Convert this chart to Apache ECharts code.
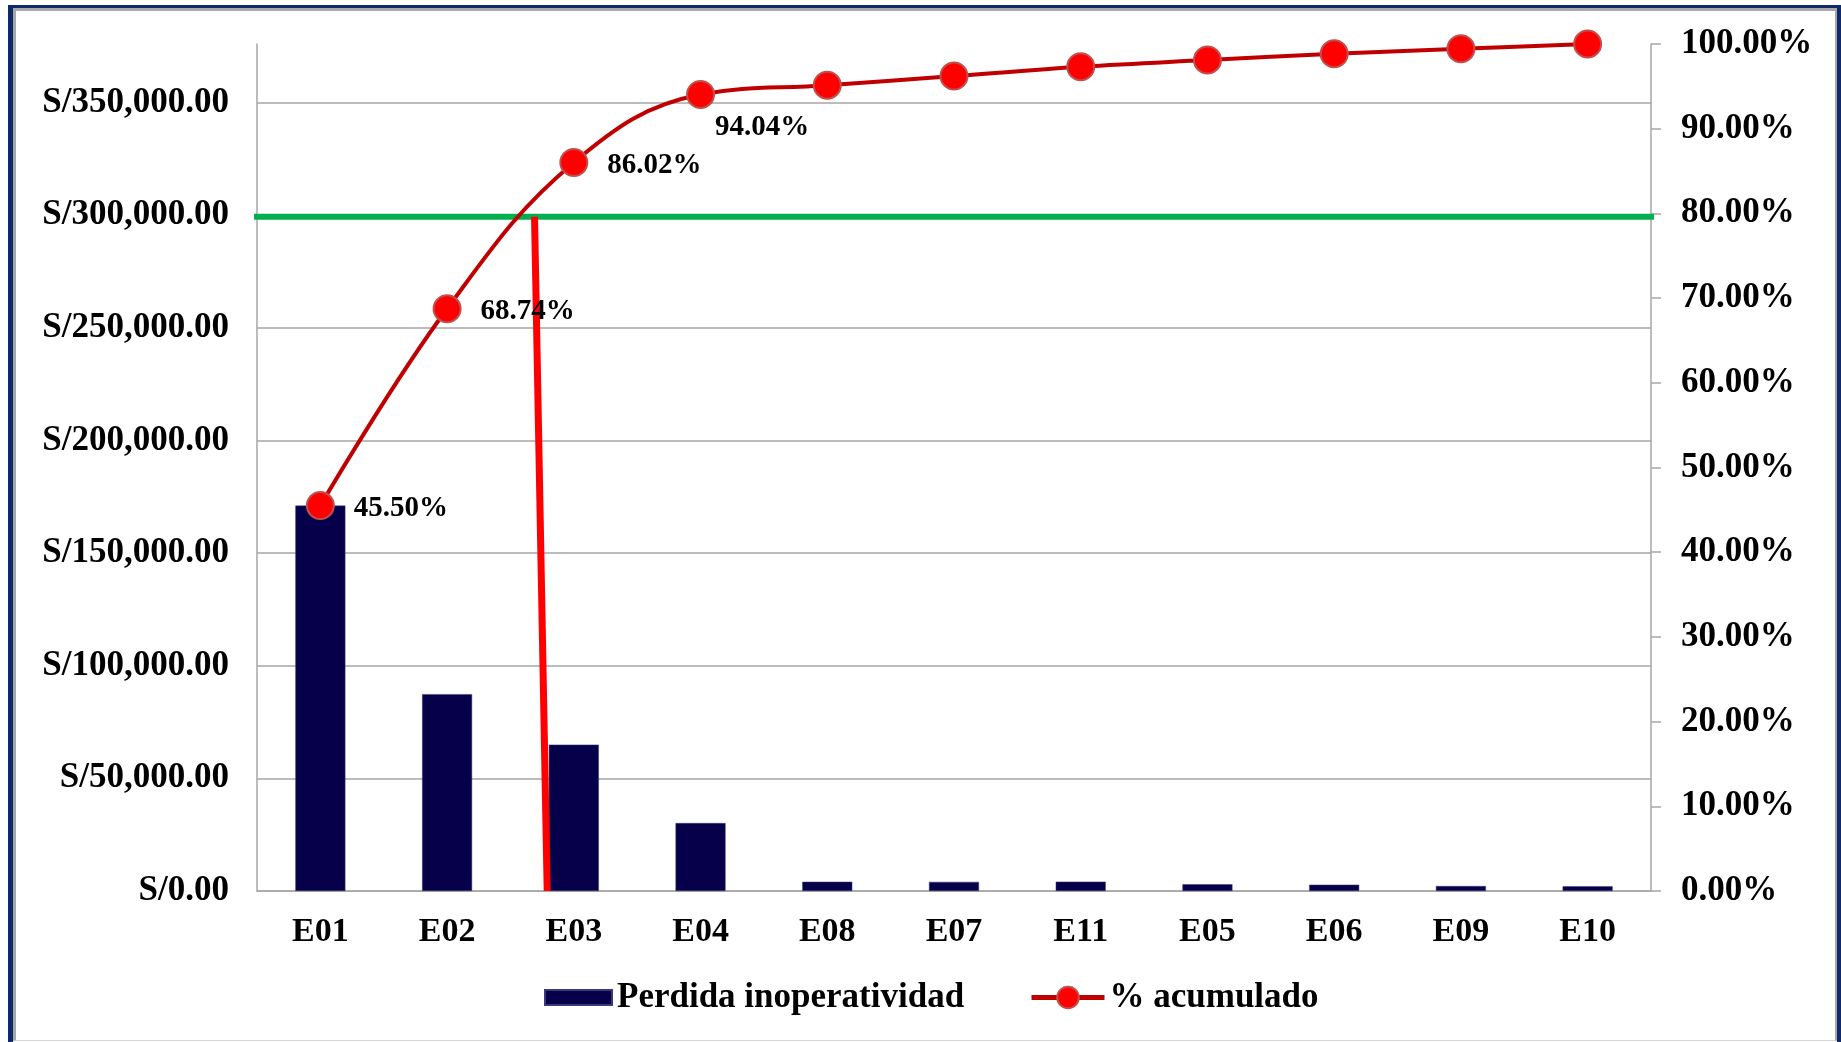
<!DOCTYPE html>
<html>
<head>
<meta charset="utf-8">
<title>Pareto - Perdida inoperatividad</title>
<script src="https://cdn.jsdelivr.net/npm/echarts@6/dist/echarts.min.js"></script>
<style>
  html, body { margin: 0; padding: 0; background: #ffffff; }
  body { width: 1841px; height: 1042px; position: relative; overflow: hidden; }
  /* navy frame around the chart area */
  #frame {
    position: absolute; left: 8px; top: 5px; right: 0; bottom: 0;
    border-left: 5px solid #0e2a68; border-top: 3px solid #0e2a68; border-right: 4px solid #0e2a68;
    box-sizing: border-box;
  }
  #frame-inner {
    position: absolute; left: 0; top: 0; right: 0; bottom: 1px;
    border-left: 3px solid #a8a8a8; border-top: 3px solid #a8a8a8; border-right: 2px solid #a8a8a8;
    border-bottom: 1px solid #d6d6d6;
    box-sizing: border-box;
  }
  #chart { position: absolute; left: 0; top: 0; width: 1841px; height: 1042px; }
</style>
</head>
<body>
<div id="frame"><div id="frame-inner"></div></div>
<div id="chart"></div>
<script>
// Equipment codes, sorted by loss
const categories = ['E01', 'E02', 'E03', 'E04', 'E08', 'E07', 'E11', 'E05', 'E06', 'E09', 'E10'];
// Loss due to inoperability (S/)
const perdida = [171090, 87387, 64976, 30157, 4100, 4050, 4150, 3000, 2800, 2200, 2100];
// Cumulative percentage
const acumulado = [45.50, 68.74, 86.02, 94.04, 95.13, 96.21, 97.31, 98.11, 98.85, 99.44, 100.00];
// Points that carry a value label
const labelledPoints = [0, 1, 2, 3];
// 80 % reference line and the cut-off marker (x measured in category slots)
const limitLevel = 79.6;
const limitLine = [[-0.03, limitLevel], [11.08, limitLevel]];
const cutoffLine = [[2.19, limitLevel], [2.29, 0]];

const totalPerdida = perdida.reduce((a, b) => a + b, 0);

function soles(v) {
  const s = Math.round(v).toString().replace(/\B(?=(\d{3})+(?!\d))/g, ',');
  return 'S/' + s + '.00';
}

const FONT = 'Liberation Serif';
const GRID = '#a6a6a6';

const lineData = acumulado.map((v, i) => {
  const item = { value: v };
  if (labelledPoints.indexOf(i) >= 0) {
    item.label = { show: true };
    if (i === 3) {
      item.label.position = [29, 30];
    }
  }
  return item;
});

const chart = echarts.init(document.getElementById('chart'), null, { renderer: 'canvas' });

chart.setOption({
  animation: false,
  backgroundColor: 'transparent',
  textStyle: { fontFamily: FONT, fontWeight: 'bold', color: '#000' },
  grid: { left: 257, right: 190, top: 44, bottom: 151, containLabel: false },
  legend: [
    {
      data: [{ name: 'Perdida inoperatividad', icon: 'rect' }],
      left: 539, top: 975,
      itemWidth: 67, itemHeight: 15,
      textStyle: { fontFamily: FONT, fontWeight: 'bold', fontSize: 35, color: '#000' }
    },
    {
      data: ['% acumulado'],
      left: 1024, top: 975,
      itemWidth: 73, itemHeight: 27,
      lineStyle: { width: 5, color: '#c00000' },
      textStyle: { fontFamily: FONT, fontWeight: 'bold', fontSize: 35, color: '#000' }
    }
  ],
  xAxis: [
    {
      type: 'category',
      data: categories,
      boundaryGap: true,
      axisLine: { lineStyle: { color: GRID, width: 1.5 } },
      axisTick: { show: false },
      axisLabel: { margin: 24, fontFamily: FONT, fontWeight: 'bold', fontSize: 34, color: '#000' }
    },
    {
      type: 'value', min: 0, max: 11, show: false
    }
  ],
  yAxis: [
    {
      type: 'value',
      min: 0, max: totalPerdida, interval: 50000,
      axisLine: { show: true, lineStyle: { color: GRID, width: 1.5 } },
      axisTick: { show: false },
      splitLine: { show: true, showMaxLine: false, lineStyle: { color: GRID, width: 1.5 } },
      axisLabel: {
        margin: 28, showMaxLabel: false,
        fontFamily: FONT, fontWeight: 'bold', fontSize: 35, color: '#000',
        formatter: v => (v % 50000 === 0 ? soles(v) : '')
      }
    },
    {
      type: 'value',
      min: 0, max: 100, interval: 10,
      position: 'right',
      axisLine: { show: true, lineStyle: { color: GRID, width: 1.5 } },
      axisTick: { show: true, length: 10, lineStyle: { color: GRID, width: 1.5 } },
      splitLine: { show: false },
      axisLabel: {
        margin: 30,
        fontFamily: FONT, fontWeight: 'bold', fontSize: 35, color: '#000',
        formatter: v => v.toFixed(2) + '%'
      }
    }
  ],
  series: [
    {
      name: 'Perdida inoperatividad',
      type: 'bar',
      data: perdida,
      barWidth: 50,
      itemStyle: { color: '#06004b', borderColor: '#3a3a78', borderWidth: 0.5 },
      z: 2
    },
    {
      name: 'limite',
      type: 'line',
      xAxisIndex: 1, yAxisIndex: 1,
      data: limitLine,
      symbol: 'none',
      clip: false,
      silent: true,
      lineStyle: { color: '#00b050', width: 6 },
      z: 3
    },
    {
      name: 'corte',
      type: 'line',
      xAxisIndex: 1, yAxisIndex: 1,
      data: cutoffLine,
      symbol: 'none',
      silent: true,
      lineStyle: { color: '#ff0000', width: 7 },
      z: 4
    },
    {
      name: '% acumulado',
      type: 'line',
      yAxisIndex: 1,
      data: lineData,
      smooth: 0.4,
      symbol: 'circle',
      symbolSize: 27,
      lineStyle: { color: '#c00000', width: 4 },
      itemStyle: { color: '#ff0000', borderColor: '#c0504d', borderWidth: 2 },
      label: {
        show: false,
        position: 'right',
        distance: 19,
        offset: [0, 3],
        fontFamily: FONT, fontWeight: 'bold', fontSize: 29, color: '#000',
        formatter: p => p.value.toFixed(2) + '%'
      },
      z: 5
    }
  ]
});
</script>
</body>
</html>
